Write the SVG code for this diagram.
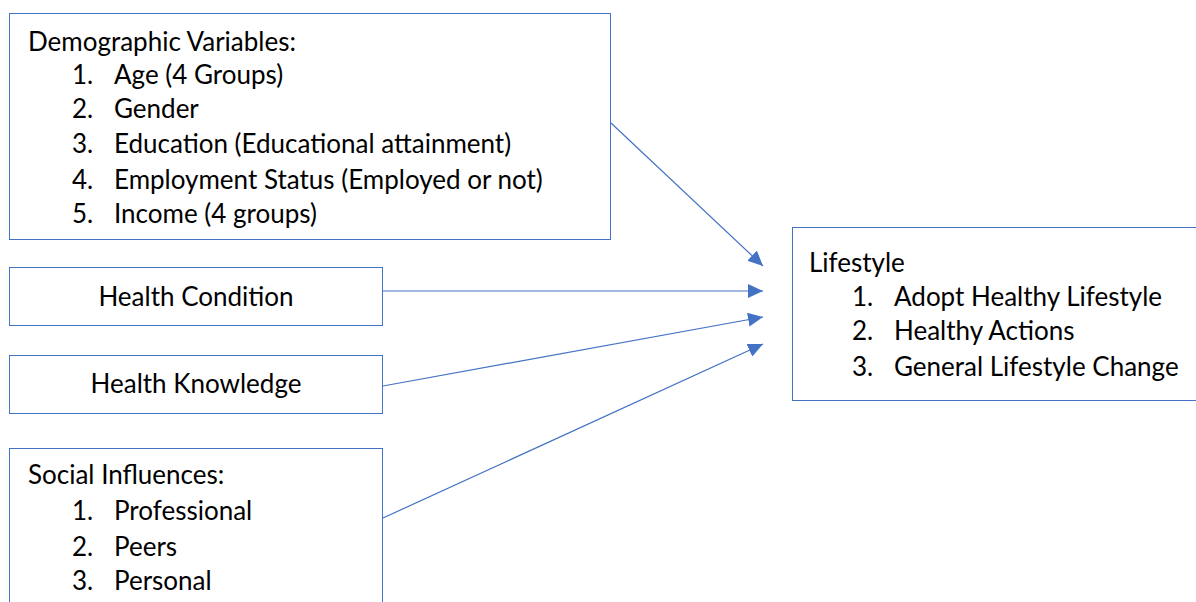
<svg xmlns="http://www.w3.org/2000/svg" width="1196" height="602" viewBox="0 0 1196 602">
<style>
.box{fill:#fff;stroke:#4472C4;stroke-width:1}
.t{font-family:Lato,"Liberation Sans",sans-serif;font-size:26px;fill:#000}
.c{text-anchor:middle}
.conn{stroke:#4472C4;stroke-width:1.2;fill:none;marker-end:url(#ah)}
</style>
<defs>
<marker id="ah" markerUnits="userSpaceOnUse" markerWidth="16" markerHeight="14" refX="15" refY="7" orient="auto">
<path d="M0,0 L15,7 L0,14 z" fill="#4472C4"/>
</marker>
</defs>
<rect width="1196" height="602" fill="#fff"/>
<g id="demographic">
<rect class="box" x="9.5" y="13.5" width="601" height="226"/>
<text class="t" x="28" y="51">Demographic Variables:</text>
<text class="t" x="72" y="84">1.</text><text class="t" x="114" y="84">Age (4 Groups)</text>
<text class="t" x="72" y="118">2.</text><text class="t" x="114" y="118">Gender</text>
<text class="t" x="72" y="153">3.</text><text class="t" x="114" y="153">Education (Educational attainment)</text>
<text class="t" x="72" y="189">4.</text><text class="t" x="114" y="189">Employment Status (Employed or not)</text>
<text class="t" x="72" y="223">5.</text><text class="t" x="114" y="223">Income (4 groups)</text>
</g>
<g id="health-condition">
<rect class="box" x="9.5" y="267.5" width="373" height="58"/>
<text class="t c" x="196" y="306">Health Condition</text>
</g>
<g id="health-knowledge">
<rect class="box" x="9.5" y="355.5" width="373" height="58"/>
<text class="t c" x="196" y="393">Health Knowledge</text>
</g>
<g id="social">
<rect class="box" x="9.5" y="448.5" width="373" height="180"/>
<text class="t" x="28" y="484">Social Influences:</text>
<text class="t" x="72" y="520">1.</text><text class="t" x="114" y="520">Professional</text>
<text class="t" x="72" y="556">2.</text><text class="t" x="114" y="556">Peers</text>
<text class="t" x="72" y="590">3.</text><text class="t" x="114" y="590">Personal</text>
</g>
<g id="lifestyle">
<rect class="box" x="792.5" y="227.5" width="420" height="173"/>
<text class="t" x="809" y="272">Lifestyle</text>
<text class="t" x="852" y="306">1.</text><text class="t" x="894" y="306">Adopt Healthy Lifestyle</text>
<text class="t" x="852" y="340">2.</text><text class="t" x="894" y="340">Healthy Actions</text>
<text class="t" x="852" y="376">3.</text><text class="t" x="894" y="376">General Lifestyle Change</text>
</g>
<g id="connectors">
<line class="conn" x1="611" y1="123" x2="763" y2="266"/>
<line class="conn" x1="383" y1="291" x2="763" y2="291"/>
<line class="conn" x1="383" y1="386" x2="763" y2="317"/>
<line class="conn" x1="383" y1="518" x2="763" y2="344"/>
</g>
</svg>
